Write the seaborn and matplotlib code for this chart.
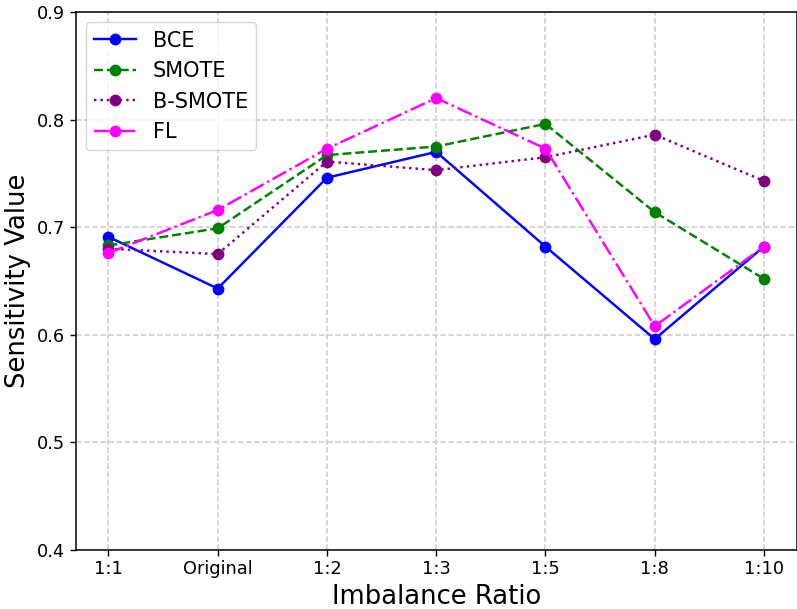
import pandas as pd
import numpy as np
import matplotlib
matplotlib.use("Agg")
import matplotlib.pyplot as plt
import seaborn as sns

# Data
ratios = ['1:1', 'Original', '1:2', '1:3', '1:5', '1:8', '1:10']
bce = [0.691, 0.643, 0.746, 0.770, 0.682, 0.596, 0.682]
smote = [0.683, 0.699, 0.767, 0.775, 0.796, 0.714, 0.652]
b_smote = [0.680, 0.675, 0.761, 0.753, 0.765, 0.786, 0.743]
fl = [0.676, 0.716, 0.773, 0.820, 0.773, 0.608, 0.682]

series = {'BCE': bce, 'SMOTE': smote, 'B-SMOTE': b_smote, 'FL': fl}
colors = {'BCE': 'blue', 'SMOTE': 'green', 'B-SMOTE': 'purple', 'FL': 'magenta'}
styles = {'BCE': '-', 'SMOTE': '--', 'B-SMOTE': ':', 'FL': '-.'}

fig = plt.figure(figsize=(7.97, 6.09), dpi=100)
ax = fig.add_axes([75.7 / 797, 59 / 609, 721 / 797, 538 / 609])

for name, vals in series.items():
    df = pd.DataFrame({'x': np.arange(len(ratios)), 'y': vals})
    sns.lineplot(data=df, x='x', y='y', ax=ax, color=colors[name], linestyle=styles[name],
                 marker='o', markersize=8.5, markeredgewidth=0, linewidth=1.75, label=name)

ax.set_xticks(np.arange(len(ratios)))
ax.set_xticklabels(ratios)
ax.set_ylim(0.4, 0.9)
ax.set_yticks([0.4, 0.5, 0.6, 0.7, 0.8, 0.9])
ax.tick_params(labelsize=12.8, length=4, width=1)
for s in ax.spines.values():
    s.set_linewidth(1.1)
ax.set_xlabel('Imbalance Ratio', fontsize=18.6)
ax.set_ylabel('Sensitivity Value', fontsize=18.6)
ax.grid(True, linestyle='--', color='#cccccc', linewidth=1.1)
ax.legend(loc='upper left', fontsize=15)

fig.savefig('out.png', dpi=100)
